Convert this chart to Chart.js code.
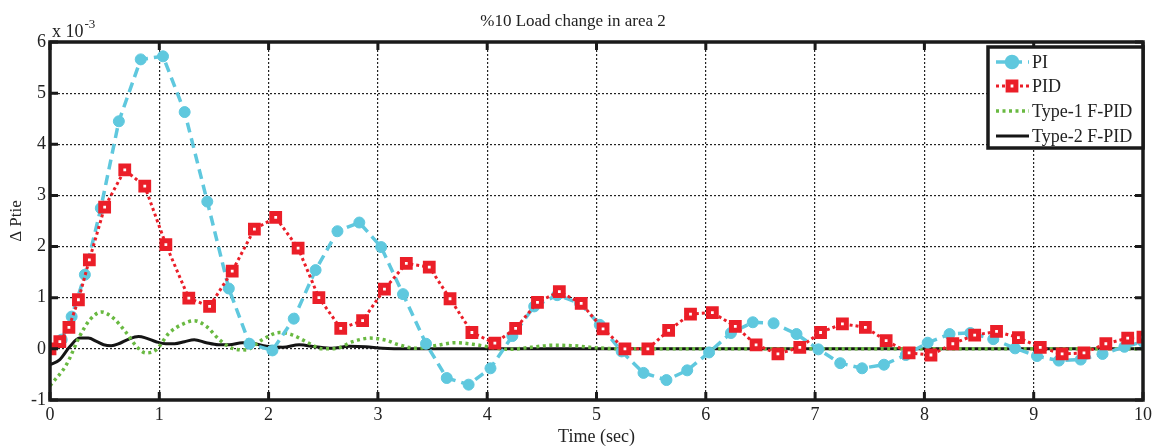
<!DOCTYPE html>
<html lang="en">
<head>
<meta charset="UTF-8">
<title>%10 Load change in area 2</title>
<script src="https://cdn.jsdelivr.net/npm/chart.js"></script>
<style>
  html, body { margin: 0; padding: 0; background: #fff; }
  #box { width: 1156px; height: 448px; }
</style>
</head>
<body>
<div id="box"><canvas id="grafico" width="1156" height="448"></canvas></div>

<script>
// valores (eixo y em unidades de 1e-3)
const titulo = '%10 Load change in area 2';
const nomes = ['PI', 'PID', 'Type-1 F-PID', 'Type-2 F-PID'];
const ticksX = [0, 1, 2, 3, 4, 5, 6, 7, 8, 9, 10];
const ticksY = [-1, 0, 1, 2, 3, 4, 5, 6];

const tempoPI = [0, 0.107, 0.198, 0.319, 0.465, 0.63, 0.83, 1.034, 1.232, 1.439, 1.636, 1.825, 2.035, 2.23, 2.43, 2.63, 2.83, 3.03, 3.23, 3.44, 3.63, 3.83, 4.03, 4.23, 4.43, 4.64, 4.85, 5.03, 5.23, 5.43, 5.64, 5.83, 6.03, 6.23, 6.43, 6.62, 6.83, 7.03, 7.23, 7.43, 7.63, 7.83, 8.03, 8.23, 8.42, 8.63, 8.83, 9.03, 9.23, 9.43, 9.63, 9.83, 10.0];
const valorPI = [0, 0.18, 0.63, 1.45, 2.75, 4.45, 5.66, 5.72, 4.63, 2.88, 1.18, 0.1, -0.03, 0.59, 1.54, 2.3, 2.47, 1.99, 1.07, 0.1, -0.57, -0.70, -0.38, 0.25, 0.83, 1.05, 0.89, 0.47, -0.05, -0.47, -0.61, -0.42, -0.07, 0.31, 0.52, 0.50, 0.29, -0.01, -0.28, -0.38, -0.31, -0.12, 0.12, 0.29, 0.31, 0.19, 0.01, -0.14, -0.23, -0.21, -0.1, 0.04, 0.14];

const tempoPID = [0, 0.09, 0.173, 0.26, 0.36, 0.50, 0.684, 0.867, 1.06, 1.27, 1.46, 1.667, 1.87, 2.065, 2.27, 2.46, 2.66, 2.86, 3.06, 3.26, 3.47, 3.66, 3.86, 4.07, 4.26, 4.46, 4.66, 4.86, 5.06, 5.26, 5.47, 5.66, 5.86, 6.06, 6.27, 6.46, 6.66, 6.86, 7.05, 7.25, 7.46, 7.65, 7.86, 8.06, 8.26, 8.46, 8.66, 8.86, 9.06, 9.26, 9.46, 9.66, 9.86, 10.0];
const valorPID = [0, 0.14, 0.42, 0.96, 1.74, 2.77, 3.50, 3.18, 2.04, 0.99, 0.83, 1.52, 2.34, 2.57, 1.97, 1.0, 0.40, 0.55, 1.17, 1.67, 1.6, 0.98, 0.32, 0.11, 0.40, 0.91, 1.12, 0.89, 0.39, 0.0, 0.0, 0.36, 0.68, 0.71, 0.44, 0.08, -0.10, 0.03, 0.32, 0.49, 0.42, 0.16, -0.08, -0.12, 0.10, 0.27, 0.34, 0.22, 0.03, -0.10, -0.08, 0.10, 0.21, 0.23];

const tempoT1 = [0, 0.15, 0.27, 0.365, 0.47, 0.58, 0.70, 0.79, 0.88, 0.97, 1.09, 1.22, 1.32, 1.43, 1.55, 1.67, 1.79, 1.95, 2.10, 2.22, 2.37, 2.49, 2.62, 2.77, 2.93, 3.07, 3.19, 3.35, 3.52, 3.71, 3.87, 4.01, 4.2, 4.4, 4.6, 4.8, 5.0, 5.3, 10.0];
const valorT1 = [-0.72, -0.31, 0.24, 0.57, 0.72, 0.60, 0.31, 0.05, -0.08, -0.02, 0.31, 0.49, 0.55, 0.44, 0.18, 0.01, -0.02, 0.19, 0.32, 0.27, 0.11, 0.0, 0.01, 0.14, 0.21, 0.17, 0.08, 0.01, 0.06, 0.12, 0.09, 0.04, -0.01, 0.03, 0.07, 0.06, 0.02, 0.0, 0.0];

const tempoT2 = [0, 0.09, 0.18, 0.27, 0.35, 0.43, 0.49, 0.56, 0.64, 0.71, 0.81, 0.88, 0.97, 1.06, 1.14, 1.23, 1.32, 1.43, 1.54, 1.64, 1.76, 1.85, 1.98, 2.13, 2.28, 2.43, 2.58, 2.74, 2.89, 3.04, 3.3, 10.0];
const valorT2 = [-0.31, -0.21, 0.04, 0.21, 0.21, 0.14, 0.08, 0.06, 0.11, 0.18, 0.24, 0.21, 0.14, 0.10, 0.10, 0.14, 0.18, 0.12, 0.08, 0.08, 0.12, 0.11, 0.05, 0.03, 0.08, 0.04, 0.01, 0.05, 0.04, 0.01, 0.0, 0.0];

const fonte = '"Liberation Serif", "Times New Roman", serif';

function pontos(tempos, valores) {
    return tempos.map(function (t, i) { return { x: t, y: valores[i] }; });
}

const dados = {
    datasets: [{
        label: nomes[0],
        data: pontos(tempoPI, valorPI),
        borderColor: 'rgb(95,200,222)',
        backgroundColor: 'rgb(95,200,222)',
        borderWidth: 3.5,
        borderDash: [10, 6],
        pointStyle: 'circle',
        pointRadius: 5.5,
        pointBorderWidth: 1,
        tension: 0,
        order: 1
    }, {
        label: nomes[1],
        data: pontos(tempoPID, valorPID),
        borderColor: 'rgb(235,30,40)',
        backgroundColor: '#fff',
        pointBackgroundColor: '#fff',
        pointBorderColor: 'rgb(235,30,40)',
        borderWidth: 3,
        borderDash: [3, 3],
        pointStyle: 'rect',
        pointRadius: 5.5,
        pointBorderWidth: 5,
        tension: 0,
        order: 0
    }, {
        label: nomes[2],
        data: pontos(tempoT1, valorT1),
        borderColor: 'rgb(105,185,65)',
        backgroundColor: 'rgb(105,185,65)',
        borderWidth: 3.5,
        borderDash: [3, 3.5],
        pointRadius: 0,
        cubicInterpolationMode: 'monotone',
        order: 2
    }, {
        label: nomes[3],
        data: pontos(tempoT2, valorT2),
        borderColor: '#151515',
        backgroundColor: '#151515',
        borderWidth: 3,
        pointRadius: 0,
        cubicInterpolationMode: 'monotone',
        order: 3
    }]
};

// moldura grossa, ticks para dentro, legenda e multiplicador x 10^-3
const molduraPlugin = {
    id: 'moldura',
    afterDatasetsDraw(chart) {
        const ctx = chart.ctx;
        const a = chart.chartArea;
        const sx = chart.scales.x;
        const sy = chart.scales.y;
        ctx.save();
        ctx.strokeStyle = '#1a1a1a';
        ctx.lineWidth = 3.5;
        ctx.setLineDash([]);
        ctx.strokeRect(a.left, a.top, a.right - a.left, a.bottom - a.top);

        ctx.lineWidth = 3;
        const tl = 8;
        ticksX.forEach(function (v) {
            const px = sx.getPixelForValue(v);
            ctx.beginPath();
            ctx.moveTo(px, a.bottom); ctx.lineTo(px, a.bottom - tl);
            ctx.moveTo(px, a.top); ctx.lineTo(px, a.top + tl);
            ctx.stroke();
        });
        ticksY.forEach(function (v) {
            const py = sy.getPixelForValue(v);
            ctx.beginPath();
            ctx.moveTo(a.left, py); ctx.lineTo(a.left + tl, py);
            ctx.moveTo(a.right, py); ctx.lineTo(a.right - tl, py);
            ctx.stroke();
        });

        // x 10^-3
        ctx.fillStyle = '#222';
        ctx.textBaseline = 'alphabetic';
        ctx.textAlign = 'left';
        ctx.font = '18px ' + fonte;
        ctx.fillText('x 10', a.left + 2, a.top - 5);
        const w = ctx.measureText('x 10').width;
        ctx.font = '13px ' + fonte;
        ctx.fillText('-3', a.left + 3 + w, a.top - 14);

        // legenda
        const lx = 988, ly = 47, lw = 155, lh = 101;
        ctx.fillStyle = '#fff';
        ctx.fillRect(lx, ly, lw, lh);
        ctx.strokeStyle = '#1a1a1a';
        ctx.lineWidth = 3.5;
        ctx.strokeRect(lx, ly, lw, lh);
        const linhas = [62, 86, 111, 136];
        chart.data.datasets.forEach(function (ds, i) {
            const y = linhas[i];
            ctx.save();
            ctx.strokeStyle = ds.borderColor;
            ctx.lineWidth = ds.borderWidth;
            ctx.setLineDash(ds.borderDash || []);
            ctx.beginPath();
            ctx.moveTo(996, y); ctx.lineTo(1029, y);
            ctx.stroke();
            ctx.setLineDash([]);
            if (ds.pointRadius > 0) {
                Chart.helpers.drawPoint(ctx, {
                    pointStyle: ds.pointStyle,
                    radius: ds.pointRadius,
                    borderWidth: ds.pointBorderWidth
                }, 1012, y);
                ctx.fillStyle = ds.pointBackgroundColor || ds.backgroundColor;
                ctx.strokeStyle = ds.pointBorderColor || ds.borderColor;
                ctx.lineWidth = ds.pointBorderWidth;
                ctx.fill();
                ctx.stroke();
            }
            ctx.restore();
            ctx.fillStyle = '#222';
            ctx.font = '18px ' + fonte;
            ctx.textBaseline = 'middle';
            ctx.fillText(ds.label, 1032, y + 1);
        });
        ctx.restore();
    }
};

const config = {
    type: 'line',
    data: dados,
    options: {
        responsive: false,
        devicePixelRatio: 1,
        animation: false,
        layout: { padding: { left: 0, right: 10, top: 0, bottom: 0 } },
        plugins: {
            legend: { display: false },
            tooltip: { enabled: false },
            title: {
                display: true,
                text: titulo,
                color: '#222',
                font: { family: fonte, size: 17, weight: 'normal' },
                padding: { top: 11, bottom: 10.6 }
            }
        },
        scales: {
            x: {
                type: 'linear',
                min: 0,
                max: 10,
                afterFit: function (s) { s.height = 48; },
                afterBuildTicks: function (s) { s.ticks = ticksX.map(function (v) { return { value: v }; }); },
                ticks: {
                    color: '#222',
                    padding: 4,
                    maxRotation: 0,
                    font: { family: fonte, size: 18 }
                },
                grid: { color: '#222', lineWidth: 1.2, drawTicks: false },
                border: { display: false, dash: [2, 2] },
                title: {
                    display: true,
                    text: 'Time (sec)',
                    color: '#222',
                    font: { family: fonte, size: 18 },
                    padding: { top: 0, bottom: 0 }
                }
            },
            y: {
                type: 'linear',
                min: -1,
                max: 6,
                afterFit: function (s) { s.width = 50; },
                afterBuildTicks: function (s) { s.ticks = ticksY.map(function (v) { return { value: v }; }); },
                ticks: {
                    color: '#222',
                    padding: 4,
                    font: { family: fonte, size: 18 }
                },
                grid: { color: '#222', lineWidth: 1.2, drawTicks: false },
                border: { display: false, dash: [2, 2] },
                title: {
                    display: true,
                    text: '\u0394 Ptie',
                    color: '#222',
                    font: { family: fonte, size: 17 },
                    padding: { top: 6, bottom: 0 }
                }
            }
        }
    },
    plugins: [molduraPlugin]
};

let myChart = new Chart(document.getElementById('grafico'), config);
</script>
</body>
</html>
